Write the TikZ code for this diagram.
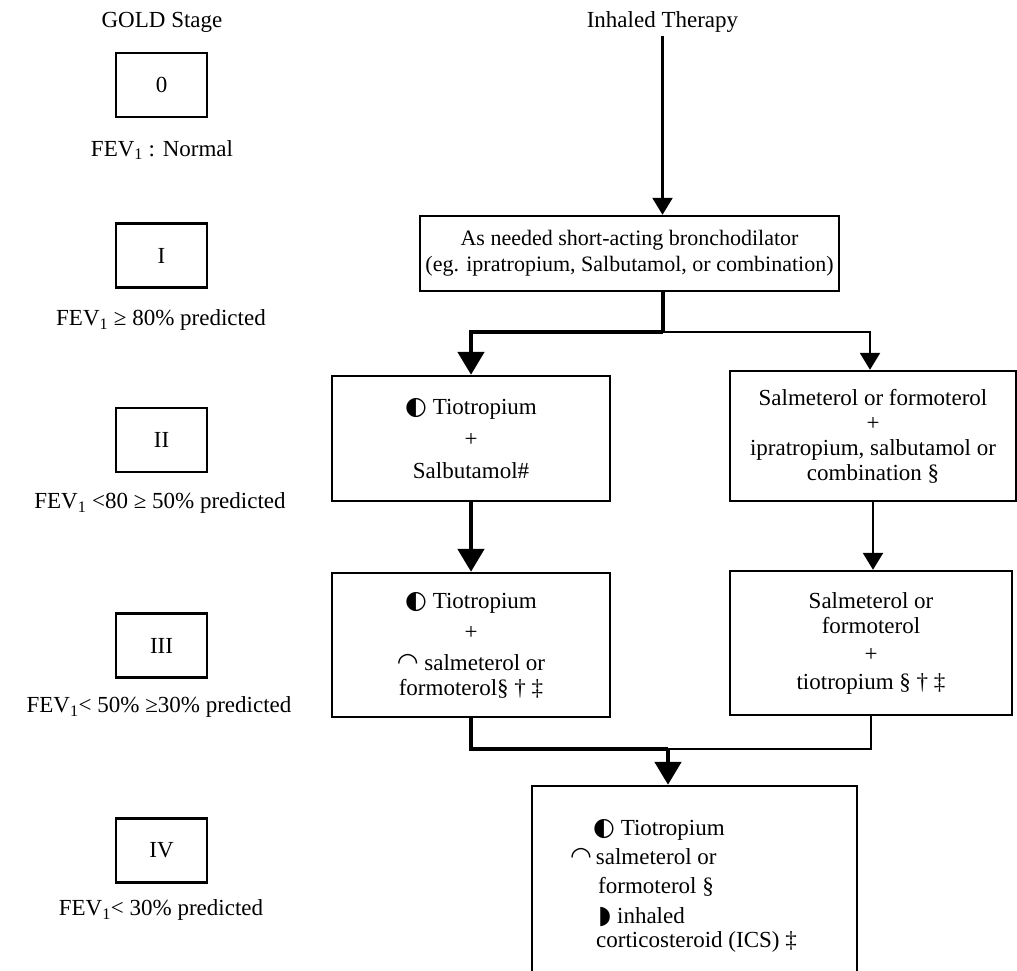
\documentclass[tikz,border=0pt]{standalone}
\usepackage{fontspec}
\setmainfont{Liberation Serif}
\newfontfamily\symfont{DejaVu Sans}
\usetikzlibrary{arrows.meta}
\newcommand{\mk}[1]{{\symfont\fontsize{25}{25}\selectfont #1}}

\begin{document}
\begin{tikzpicture}[x=1pt,y=-1pt,
  every node/.style={font=\fontsize{23}{25}\selectfont},
  stagebox/.style={draw,line width=2.4pt,minimum width=91pt,minimum height=64pt,inner sep=0pt},
  drugbox/.style={draw,line width=2.4pt,inner sep=0pt,align=center},
  thinline/.style={line width=2.4pt},
  thickline/.style={line width=4.8pt},
  thinarrow/.style={line width=2.4pt,-{Triangle[width=20pt,length=17pt]}},
  thickarrow/.style={line width=4.8pt,-{Triangle[width=26pt,length=23pt]}}]

\useasboundingbox (0,0) rectangle (1017,971);

% stages on the left
\node (gold) at (162,22) {GOLD Stage};

\node[stagebox] (s0) at (161.5,85) {0};
\node (f0) at (162,150) {FEV\textsubscript{1} : Normal};

\node[stagebox] (s1) at (161.5,255.5) {I};
\node (f1) at (161,320) {FEV\textsubscript{1} ≥ 80\% predicted};

\node[stagebox] (s2) at (161.5,440) {II};
\node (f2) at (160,503) {FEV\textsubscript{1} <80 ≥ 50\% predicted};

\node[stagebox] (s3) at (161.5,645.5) {III};
\node (f3) at (159,707) {FEV\textsubscript{1}< 50\% ≥30\% predicted};

\node[stagebox] (s4) at (161.5,850.5) {IV};
\node (f4) at (161,910) {FEV\textsubscript{1}< 30\% predicted};

% therapy
\node (therapy) at (662.5,22) {Inhaled Therapy};

\node[drugbox,minimum width=419pt,minimum height=75pt,font=\fontsize{22}{26}\selectfont] (need) at (629.5,253.5)
  {As needed short-acting bronchodilator\\(eg. ipratropium, Salbutamol, or combination)};

\node[drugbox,minimum width=278pt,minimum height=125pt] (tioA) at (471,438.5)
  {\mk{◐} Tiotropium\\[7pt]+\\[7pt]Salbutamol\#};

\node[drugbox,minimum width=286pt,minimum height=130pt] (salA) at (873,436)
  {Salmeterol or formoterol\\+\\ipratropium, salbutamol or\\combination §};

\node[drugbox,minimum width=278pt,minimum height=144pt] (tioB) at (471,645)
  {\mk{◐} Tiotropium\\[6pt]+\\[6pt]\mk{◠} salmeterol or\\formoterol§ † ‡};

\node[drugbox,minimum width=282pt,minimum height=144pt] (salB) at (871,643)
  {Salmeterol or\\formoterol\\[3pt]+\\[3pt]tiotropium § † ‡};

\node[drugbox,minimum width=325pt,minimum height=214pt] (ics) at (694.5,893) {};
\node[anchor=west,inner sep=0pt] (ics1) at (593,830) {\mk{◐} Tiotropium};
\node[anchor=west,inner sep=0pt] (ics2) at (570,857) {\mk{◠}\,salmeterol or};
\node[anchor=west,inner sep=0pt] (ics3) at (598,887) {formoterol §};
\node[anchor=west,inner sep=0pt] (ics4) at (598,917) {\mk{◗} inhaled};
\node[anchor=west,inner sep=0pt] (ics5) at (596,942) {corticosteroid (ICS) ‡};

% connectors
\draw[thinarrow] (therapy.south) -- (therapy.south |- need.north);

\coordinate (split) at (663,332);
\draw[thickline] (split |- need.south) -- (split);
\draw[thickarrow] (split) -| (tioA.north);
\draw[thinarrow] (split) -| ([xshift=-3pt]salA.north);

\draw[thickarrow] (tioA.south) -- (tioB.north);
\draw[thinarrow] (salA.south) -- (salA.south |- salB.north);

\coordinate (join) at (668,749);
\draw[thickline] (tioB.south) |- (join);
\draw[thinline] (salB.south) |- (join);
\draw[thickarrow] (join) -- (join |- ics.north);

\end{tikzpicture}
\end{document}
